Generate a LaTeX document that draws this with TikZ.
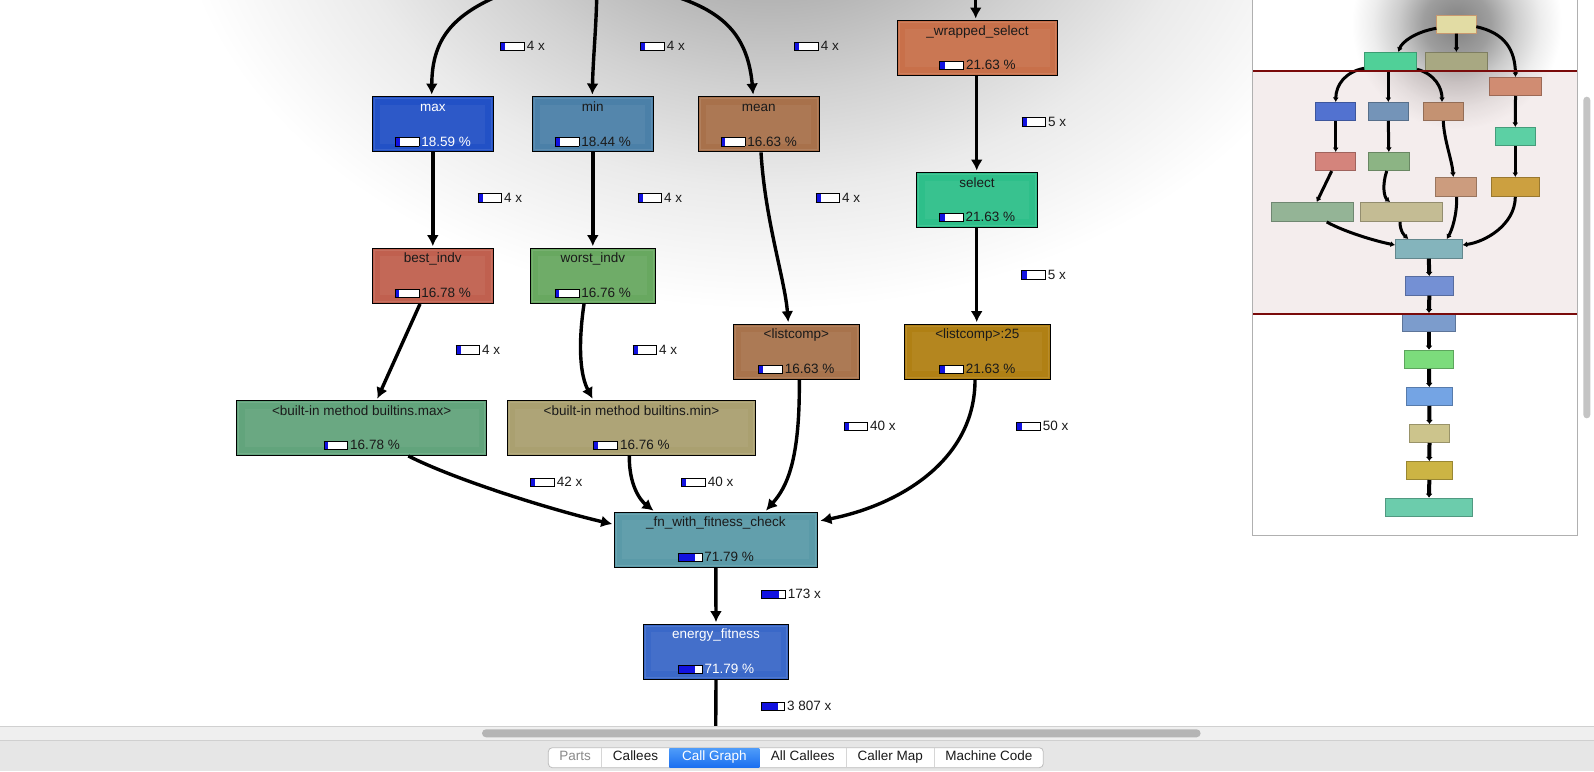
\documentclass[tikz,border=0pt]{standalone}
\usepackage{fontspec}
\setmainfont{Liberation Sans}
\usetikzlibrary{arrows.meta,calc}

\definecolor{barblue}{HTML}{1212E0}
\definecolor{txtdark}{HTML}{1A1A1A}
\definecolor{cmax}{HTML}{2251C6}
\definecolor{cmin}{HTML}{4B80A8}
\definecolor{cmean}{HTML}{A8714B}
\definecolor{cws}{HTML}{C8704A}
\definecolor{csel}{HTML}{2EBF8A}
\definecolor{cbest}{HTML}{C0604F}
\definecolor{cworst}{HTML}{68A860}
\definecolor{clc}{HTML}{A8734C}
\definecolor{clcb}{HTML}{B08014}
\definecolor{cbmax}{HTML}{62A47C}
\definecolor{cbmin}{HTML}{AAA070}
\definecolor{cfn}{HTML}{5A9AA8}
\definecolor{cen}{HTML}{3A68C8}
\definecolor{bandcol}{HTML}{B88888}
\definecolor{redline}{HTML}{7A0A0A}
\definecolor{panelborder}{HTML}{B0B0B0}
\definecolor{trackcol}{HTML}{EFEFEF}
\definecolor{thumbcol}{HTML}{B5B5B5}
\definecolor{barbg}{HTML}{E6E6E6}
\definecolor{sepline}{HTML}{D0D0D0}
\definecolor{tabborder}{HTML}{BDBDBD}
\definecolor{tabdiv}{HTML}{D6D6D6}
\definecolor{tabblueA}{HTML}{4F9CF9}
\definecolor{tabblueB}{HTML}{1B6FF0}
\definecolor{tabgray}{HTML}{8A8A8A}
\definecolor{vthumb}{HTML}{C4C4C4}

\pgfdeclareradialshading{viewshadow}{\pgfpoint{0bp}{0bp}}{color(0bp)=(black!44); color(7bp)=(black!30); color(12.5bp)=(black!18); color(18bp)=(black!8); color(25bp)=(white); color(50bp)=(white)}
\pgfdeclareradialshading{minishadow}{\pgfpoint{0bp}{0bp}}{color(0bp)=(black!50); color(8bp)=(black!38); color(14bp)=(black!20); color(20bp)=(black!7); color(25bp)=(white); color(50bp)=(white)}

\newcommand\uifont{\fontsize{13.5}{15}\selectfont}
\newcommand\cgbar[1]{\raisebox{0.6pt}{\setlength\fboxsep{0pt}\setlength\fboxrule{0.8pt}\fcolorbox{black}{white}{\textcolor{barblue}{\rule{#1pt}{8pt}}\hspace*{\dimexpr23pt-#1pt\relax}}}}

\tikzset{
  cgnode/.style={draw=black, line width=1.3pt, inner sep=0pt,
    path picture={\draw[white, opacity=0.1, line width=1.5pt]
      ([shift={(2pt,-2pt)}]path picture bounding box.north west) rectangle
      ([shift={(-2pt,2pt)}]path picture bounding box.south east);
      \fill[white, opacity=0.05]
      ([shift={(8pt,-8pt)}]path picture bounding box.north west) rectangle
      ([shift={(-8pt,8pt)}]path picture bounding box.south east);}},
  cgtext/.style={font=\uifont, inner sep=0pt, text height=9.5pt, text depth=0pt},
  lbl/.style={cgtext, anchor=west, text=txtdark},
  edge/.style={line width=3.4pt, -{Latex[length=11pt,width=12pt]}, shorten >=1.5pt},
  mininode/.style={inner sep=0pt, line width=0.6pt},
  minedge/.style={line width=3pt, -{Latex[length=4.5pt,width=6pt]}},
  chainedge/.style={line width=4pt, -{Latex[length=4pt,width=7pt]}},
  tabtext/.style={cgtext, text=txtdark},
}

\newcommand\cgbox[9]{%
  \pgfmathsetmacro\cgw{23*#9/100}%
  \node[cgnode, fill=#6, minimum width={#4-#2}, minimum height={#5-#3}] (#1) at ({(#2+#4)/2},{(#3+#5)/2}) {};
  \node[cgtext, text=#7] (#1t) at ($(#1.north)+(0,10.3)$) {#8};
  \node[cgtext, text=#7] (#1p) at ($(#1.south)+(0,-10.8)$) {\cgbar{\cgw}\hspace{2pt}#9~\%};
}
\newcommand\mini[6]{%
  \definecolor{mc#1}{HTML}{#6}%
  \node[mininode, fill=mc#1, draw=mc#1!75!black, minimum width={#4-#2}, minimum height={#5-#3}] (#1) at ({(#2+#4)/2},{(#3+#5)/2}) {};
}

\begin{document}
\begin{tikzpicture}[x=1pt,y=-1pt]
\useasboundingbox (0,0) rectangle (1594,771);

% ---------------- main graph view ----------------
\begin{scope}
\clip (0,0) rectangle (1594,725.7);
\fill[white] (0,0) rectangle (1594,725.7);
\shade[shading=viewshadow] (770,-130) ellipse [x radius=600pt, y radius=440pt];

\cgbox{max}{372.3}{96.7}{493.3}{151.7}{cmax}{white}{max}{18.59}
\cgbox{min}{532.3}{96.7}{653.3}{151.7}{cmin}{txtdark}{min}{18.44}
\cgbox{mean}{698.3}{96.7}{819.3}{151.7}{cmean}{txtdark}{mean}{16.63}
\cgbox{ws}{897.3}{20.7}{1057.7}{75.3}{cws}{txtdark}{\_wrapped\_select}{21.63}
\cgbox{sel}{916.7}{172.7}{1037.3}{227.3}{csel}{txtdark}{select}{21.63}
\cgbox{best}{372.3}{248.3}{493.3}{303.3}{cbest}{txtdark}{best\_indv}{16.78}
\cgbox{worst}{530.3}{248.3}{655.3}{303.3}{cworst}{txtdark}{worst\_indv}{16.76}
\cgbox{lc}{733.3}{324.3}{859.3}{379.3}{clc}{txtdark}{<listcomp>}{16.63}
\cgbox{lcb}{904.3}{324.3}{1050.3}{379.3}{clcb}{txtdark}{<listcomp>:25}{21.63}
\cgbox{bmax}{236.7}{400.7}{486.7}{455.3}{cbmax}{txtdark}{<built-in method builtins.max>}{16.78}
\cgbox{bmin}{507.3}{400.7}{755.7}{455.3}{cbmin}{txtdark}{<built-in method builtins.min>}{16.76}
\cgbox{fn}{614.3}{512.3}{817.3}{567.3}{cfn}{txtdark}{\_fn\_with\_fitness\_check}{71.79}
\cgbox{en}{643.3}{624.3}{788.7}{679.3}{cen}{white}{energy\_fitness}{71.79}

\coordinate (s1) at (493.3,-2);
\coordinate (s2) at (596.7,-2);
\coordinate (s3) at (680,-2);
\coordinate (s4) at (975.7,-2);
\coordinate (ebot) at (715.7,730);

\draw[edge] (s1) .. controls (450,18) and (432,42) .. ($(max.north)+(-1.1,0)$);
\draw[edge] (s2) .. controls (596,30) and (593,60) .. ($(min.north)+(-0.5,0)$);
\draw[edge] (s3) .. controls (726,14) and (748,38) .. ($(mean.north)+(-5.5,0)$);
\draw[edge] (s4) -- ($(ws.north)+(-1.8,0)$);
\draw[edge] ($(ws.south)+(-0.8,0)$) -- ($(sel.north)+(-0.3,0)$);
\draw[edge] (max.south) -- (best.north);
\draw[edge] (min.south) -- (worst.north);
\draw[edge] ($(mean.south)+(2.2,0)$) .. controls (765,220) and (785,280) .. ($(lc.north)+(-8,0)$);
\draw[edge] ($(sel.south)+(-0.3,0)$) -- ($(lcb.north)+(-0.6,0)$);
\draw[edge] ($(best.south)+(-12.8,0)$) -- ($(bmax.north)+(15,0)$);
\draw[edge] ($(worst.south)+(-8.8,0)$) .. controls (578,345) and (580,375) .. ($(bmin.north)+(-38.2,0)$);
\draw[edge] ($(lc.south)+(3,0)$) .. controls (800,460) and (787,487) .. ($(fn.north)+(49.2,0)$);
\draw[edge] ($(lcb.south)+(-2.3,0)$) .. controls (975,460) and (900,505) .. ($(fn.north east)+(1,9.4)$);
\draw[edge] ($(bmax.south)+(46.6,0)$) .. controls (460,482) and (560,512) .. ($(fn.north west)+(0,12.7)$);
\draw[edge] ($(bmin.south)+(-2.2,0)$) .. controls (629,485) and (640,500) .. ($(fn.north west)+(41,0)$);
\draw[edge] (fn.south) -- (en.north);
\draw[line width=3.4pt] (en.south) -- (ebot);

\node[lbl] (l1) at (500,46.2) {\cgbar{4.3}\hspace{2pt}4 x};
\node[lbl] (l2) at (640,46.2) {\cgbar{4.3}\hspace{2pt}4 x};
\node[lbl] (l3) at (794,46.2) {\cgbar{4.3}\hspace{2pt}4 x};
\node[lbl] (l4) at (1021.3,122) {\cgbar{5}\hspace{2pt}5 x};
\node[lbl] (l5) at (477.3,198) {\cgbar{4.3}\hspace{2pt}4 x};
\node[lbl] (l6) at (637.3,198) {\cgbar{4.3}\hspace{2pt}4 x};
\node[lbl] (l7) at (815.3,198) {\cgbar{4.3}\hspace{2pt}4 x};
\node[lbl] (l8) at (1021,274.5) {\cgbar{5}\hspace{2pt}5 x};
\node[lbl] (l9) at (455.3,350) {\cgbar{4.3}\hspace{2pt}4 x};
\node[lbl] (l10) at (632.3,350) {\cgbar{4.3}\hspace{2pt}4 x};
\node[lbl] (l11) at (843.3,426.2) {\cgbar{4.3}\hspace{2pt}40 x};
\node[lbl] (l12) at (1016,426.2) {\cgbar{5.3}\hspace{2pt}50 x};
\node[lbl] (l13) at (530,482.2) {\cgbar{4.3}\hspace{2pt}42 x};
\node[lbl] (l14) at (681,482.2) {\cgbar{4.3}\hspace{2pt}40 x};
\node[lbl] (l15) at (761,594.2) {\cgbar{16.5}\hspace{2pt}173 x};
\node[lbl] (l16) at (760.3,706.2) {\cgbar{16.8}\hspace{2pt}3 807 x};
\end{scope}

% ---------------- bird's eye panel ----------------
\begin{scope}
\clip (1252.3,0) rectangle (1577.7,535.3);
\fill[white] (1252.3,0) rectangle (1577.7,535.3);
\shade[shading=minishadow] (1456.7,24) circle [radius=105pt];
\fill[bandcol, opacity=0.15] (1252.3,70.7) rectangle (1577.7,314.3);

\node[mininode, fill={rgb,255:red,226;green,220;blue,164}, draw={rgb,255:red,200;green,152;blue,112}, minimum width=39.3, minimum height=17.6] (m1) at (1456.3,24.5) {};
\mini{m2}{1364.3}{52.3}{1416.7}{70}{50D098}
\mini{m3}{1425}{52.3}{1487.7}{70}{A8A882}
\mini{m4}{1489.3}{77.3}{1541.7}{95.7}{D08C72}
\mini{m5}{1315.7}{102.3}{1355.7}{120.7}{5272D0}
\mini{m6}{1368.3}{102.3}{1408.3}{120.7}{7494B8}
\mini{m7}{1423.3}{102.3}{1463.3}{120.7}{C49272}
\mini{m8}{1495.3}{127.3}{1535.3}{145.7}{5CD0A4}
\mini{m9}{1315.7}{152.3}{1355.7}{170.7}{D4847C}
\mini{m10}{1368.3}{152.3}{1409.3}{170.7}{8CB484}
\mini{m11}{1435.3}{177.3}{1476.7}{196.7}{CC9C7E}
\mini{m12}{1491.3}{177.3}{1539.3}{196.7}{CCA040}
\mini{m13}{1271.3}{202.3}{1353.3}{221.7}{94B496}
\mini{m14}{1360.3}{202.3}{1442.3}{221.7}{C4BC94}
\mini{m15}{1395.3}{239.3}{1462.3}{258.3}{84B4BC}
\mini{m16}{1405.3}{276.3}{1453.3}{295.3}{7490D4}
\mini{m17}{1402.3}{313.3}{1455.7}{331.7}{7C9CCC}
\mini{m18}{1404.3}{350}{1453.7}{368.7}{7CDC7C}
\mini{m19}{1406.3}{387.3}{1452.3}{405.7}{74A4E4}
\mini{m20}{1409.3}{424.3}{1449.7}{442.7}{CCC48C}
\mini{m21}{1406.3}{461.3}{1452.3}{479.7}{CCB444}
\mini{m22}{1385.3}{498}{1472.7}{516.7}{6CCCAC}

\draw[minedge] ($(m1.west)+(0,3.8)$) .. controls (1415,32) and (1402,42) .. ($(m2.north)+(7.8,0)$);
\draw[minedge] (m1.south) -- (m3.north);
\draw[minedge] ($(m1.east)+(0,2.2)$) .. controls (1505,33) and (1515,50) .. (m4.north);
\draw[minedge] ($(m2.south west)+(0,-2)$) .. controls (1345,72) and (1336,85) .. (m5.north);
\draw[minedge] (m6.north |- m2.south) -- (m6.north);
\draw[minedge] ($(m2.south east)+(0,-1)$) .. controls (1435,74) and (1442,88) .. ($(m7.north)+(-1.3,0)$);
\draw[minedge] (m4.south) -- (m8.north);
\draw[minedge] (m5.south) -- (m9.north);
\draw[minedge] (m6.south) -- (m10.north);
\draw[minedge] (m7.south) .. controls (1444,140) and (1452,160) .. ($(m11.north)+(-2.7,0)$);
\draw[minedge] (m8.south) -- (m12.north);
\draw[minedge] ($(m9.south)+(-4,0)$) -- ($(m13.north)+(4.4,0)$);
\draw[minedge] ($(m10.south)+(-2.1,0)$) .. controls (1382,185) and (1384,197) .. ($(m14.north)+(-11.3,0)$);
\draw[minedge] ($(m13.south)+(14.4,0)$) .. controls (1345,232) and (1375,241) .. ($(m15.west)+(0,-3.8)$);
\draw[minedge] ($(m14.south)+(-1.3,0)$) .. controls (1400,232) and (1405,236) .. ($(m15.north)+(-20.5,0)$);
\draw[minedge] ($(m11.south)+(0.7,0)$) .. controls (1457,215) and (1452,230) .. ($(m15.north)+(18,0)$);
\draw[minedge] (m12.south) .. controls (1515,225) and (1485,242) .. ($(m15.east)+(0,-3.8)$);
\draw[chainedge] (m15.south) -- (m16.north);
\draw[chainedge] (m16.south) -- (m17.north);
\draw[chainedge] (m17.south) -- (m18.north);
\draw[chainedge] (m18.south) -- (m19.north);
\draw[chainedge] (m19.south) -- (m20.north);
\draw[chainedge] (m20.south) -- (m21.north);
\draw[chainedge] (m21.south) -- (m22.north);

\draw[redline, line width=2pt] (1252.3,70.7) -- (1577.7,70.7);
\draw[redline, line width=2pt] (1252.3,314.3) -- (1577.7,314.3);
\end{scope}
\draw[panelborder, line width=1pt] (1252.3,-1) -- (1252.3,535.3) -- (1577.7,535.3) -- (1577.7,-1);

% vertical scrollbar thumb
\fill[vthumb, rounded corners=3.5pt] (1583.3,96.7) rectangle (1590.3,418.3);

% ---------------- bottom: scrollbar and tab bar ----------------
\fill[trackcol] (0,726) rectangle (1594,740);
\draw[sepline, line width=0.8pt] (0,725.9) -- (1594,725.9);
\fill[thumbcol, rounded corners=4pt] (482,729.3) rectangle (1200.6,737.3);
\fill[barbg] (0,740) rectangle (1594,771);
\draw[sepline, line width=0.8pt] (0,740.2) -- (1594,740.2);

\node[draw=tabborder, fill=white, line width=0.8pt, rounded corners=4pt, minimum width=495, minimum height=20, inner sep=0pt] (tabs) at (795.8,757.7) {};
\shade[top color=tabblueA, bottom color=tabblueB] (669.3,748.1) rectangle (759.3,767.3);
\draw[tabdiv, line width=0.8pt] (601.7,748.2) -- (601.7,767.2);
\draw[tabdiv, line width=0.8pt] (846,748.2) -- (846,767.2);
\draw[tabdiv, line width=0.8pt] (934.3,748.2) -- (934.3,767.2);
\node[tabtext, text=tabgray] (tparts) at (575,756) {Parts};
\node[tabtext] (tcallees) at (635.5,756) {Callees};
\node[tabtext, text=white] (tgraph) at (714.3,756) {Call Graph};
\node[tabtext] (tall) at (802.7,756) {All Callees};
\node[tabtext] (tmap) at (890.2,756) {Caller Map};
\node[tabtext] (tcode) at (988.8,756) {Machine Code};
\end{tikzpicture}
\end{document}
